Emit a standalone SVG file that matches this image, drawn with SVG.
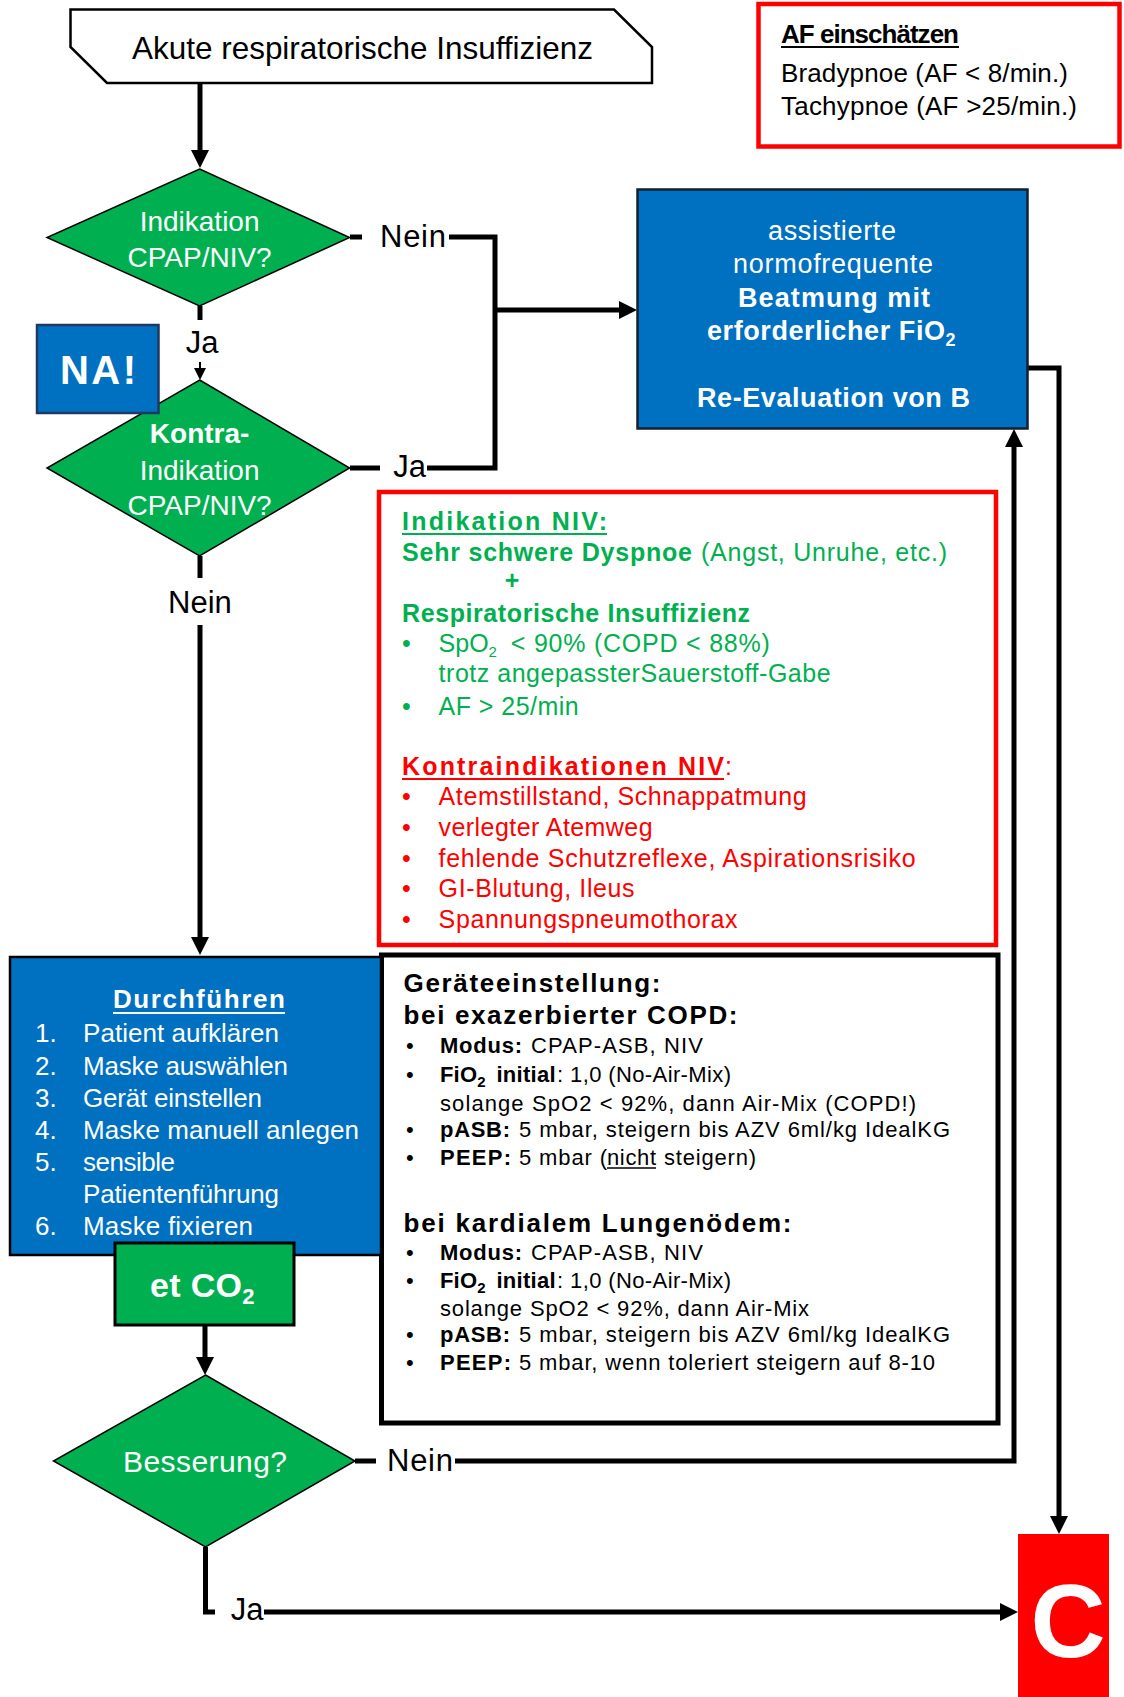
<svg xmlns="http://www.w3.org/2000/svg" width="1124" height="1697" viewBox="0 0 1124 1697">
<defs>
<style>
text { font-family: "Liberation Sans", Arial, sans-serif; }
.conn { stroke:#000; stroke-width:5; fill:none; stroke-linejoin:miter; }
.thin { stroke:#000; stroke-width:2; fill:none; }
.lbl { font-size:31px; fill:#000; }
.dia { fill:#00B050; stroke:#000; stroke-width:1.5; }
.wt { fill:#fff; }
.b { font-weight:bold; }
.grn { fill:#00B050; }
.red { fill:#FF0000; }
.blk { fill:#000; }
</style>
<marker id="ah" viewBox="0 0 18 18" refX="8" refY="9" markerWidth="18" markerHeight="18" markerUnits="userSpaceOnUse" orient="auto"><path d="M0,0 L18,9 L0,18 Z" fill="#000"/></marker>
<marker id="ahs" viewBox="0 0 12 12" refX="2" refY="6" markerWidth="12" markerHeight="12" markerUnits="userSpaceOnUse" orient="auto"><path d="M0,0 L12,6 L0,12 Z" fill="#000"/></marker>
</defs>
<rect width="1124" height="1697" fill="#fff"/>

<g id="connectors">
  <line class="conn" x1="200" y1="83" x2="200" y2="158" marker-end="url(#ah)"/>
  <line class="conn" x1="200" y1="306" x2="200" y2="320"/>
  <line class="thin" x1="200" y1="362" x2="200" y2="370" marker-end="url(#ahs)"/>
  <line class="conn" x1="350" y1="237" x2="362" y2="237"/>
  <path class="conn" d="M449,237 H495 V468 H427"/>
  <line class="conn" x1="350" y1="468" x2="380" y2="468"/>
  <line class="conn" x1="495" y1="310" x2="627" y2="310" marker-end="url(#ah)"/>
  <line class="conn" x1="200" y1="556" x2="200" y2="578"/>
  <line class="conn" x1="200" y1="625" x2="200" y2="945" marker-end="url(#ah)"/>
  <line class="conn" x1="205" y1="1325" x2="205" y2="1365" marker-end="url(#ah)"/>
  <line class="conn" x1="355" y1="1461" x2="376" y2="1461"/>
  <path class="conn" d="M455,1461 H1014 V439" marker-end="url(#ah)"/>
  <path class="conn" d="M205.5,1547 V1612 H215"/>
  <line class="conn" x1="264" y1="1612" x2="1008" y2="1612" marker-end="url(#ah)"/>
  <path class="conn" d="M1028,368 H1059 V1524" marker-end="url(#ah)"/>
  <text class="lbl" x="380" y="247" textLength="66">Nein</text>
  <text class="lbl" x="202" y="353" font-size="28" text-anchor="middle">Ja</text>
  <text class="lbl" x="409.5" y="477" font-size="29" text-anchor="middle">Ja</text>
  <text class="lbl" x="200" y="613" text-anchor="middle">Nein</text>
  <text class="lbl" x="387" y="1471" textLength="66">Nein</text>
  <text class="lbl" x="247" y="1620" font-size="29" text-anchor="middle">Ja</text>
</g>

<g id="start">
  <path d="M70.5,9.5 H614 L652,47 V83 H107 L70.5,47 Z" fill="#fff" stroke="#000" stroke-width="2.5"/>
  <text x="132" y="59" font-size="32" textLength="461" lengthAdjust="spacingAndGlyphs">Akute respiratorische Insuffizienz</text>
</g>

<g id="af-box">
  <rect x="758.5" y="4" width="361" height="142.5" fill="#fff" stroke="#FF0000" stroke-width="4.5"/>
  <text x="781" y="42.5" font-size="26" class="b" textLength="178">AF einschätzen</text>
  <line x1="781" y1="47" x2="959" y2="47" stroke="#000" stroke-width="2"/>
  <text x="781" y="81.5" font-size="26" textLength="287">Bradypnoe  (AF &lt; 8/min.)</text>
  <text x="781" y="115" font-size="26" textLength="296">Tachypnoe  (AF &gt;25/min.)</text>
</g>

<g id="diamond-indikation">
  <polygon class="dia" points="199.6,169 349.6,237.5 199.6,306 47,237.5"/>
  <text class="wt" x="199.6" y="231" font-size="28" text-anchor="middle">Indikation</text>
  <text class="wt" x="199.6" y="267" font-size="28" text-anchor="middle">CPAP/NIV?</text>
</g>

<g id="diamond-kontra">
  <polygon class="dia" points="199.6,380 349.6,468 199.6,556 47,468"/>
  <text class="wt b" x="199.6" y="443" font-size="28" text-anchor="middle">Kontra-</text>
  <text class="wt" x="199.6" y="480" font-size="28" text-anchor="middle">Indikation</text>
  <text class="wt" x="199.6" y="515" font-size="28" text-anchor="middle">CPAP/NIV?</text>
</g>

<g id="na">
  <rect x="37" y="325" width="121.5" height="88" fill="#0070C0" stroke="#1F3864" stroke-width="2.5"/>
  <text class="wt b" x="98" y="384" font-size="40" text-anchor="middle" textLength="76">NA!</text>
</g>

<g id="beatmung">
  <rect x="637.5" y="189.5" width="390" height="239" fill="#0070C0" stroke="#14202E" stroke-width="2.5"/>
  <text class="wt" x="768" y="240" font-size="27" textLength="128">assistierte</text>
  <text class="wt" x="733" y="273" font-size="27" textLength="200">normofrequente</text>
  <text class="wt b" x="738" y="307" font-size="27" textLength="192">Beatmung mit</text>
  <text class="wt b" x="707" y="340" font-size="27"><tspan textLength="238">erforderlicher FiO</tspan><tspan font-size="18" dy="6">2</tspan></text>
  <text class="wt b" x="697" y="407" font-size="27" textLength="273">Re-Evaluation von B</text>
</g>

<g id="indikation-niv">
  <rect x="379" y="492" width="617" height="453" fill="#fff" stroke="#FF0000" stroke-width="4.5"/>
  <text class="grn b" x="402" y="530" font-size="25" textLength="205">Indikation NIV:</text>
  <line x1="402" y1="534" x2="607" y2="534" stroke="#00B050" stroke-width="2"/>
  <text class="grn" y="561" font-size="25"><tspan class="b" x="402" textLength="290">Sehr schwere Dyspnoe</tspan><tspan x="701" textLength="246">(Angst, Unruhe, etc.)</tspan></text>
  <text class="grn b" x="512" y="589" font-size="25" text-anchor="middle">+</text>
  <text class="grn b" x="402" y="622" font-size="25" textLength="348">Respiratorische Insuffizienz</text>
  <text class="grn" x="402" y="652" font-size="25">•</text>
  <text class="grn" y="652" font-size="25"><tspan x="438.6" textLength="50">SpO</tspan><tspan font-size="15" dy="5">2</tspan><tspan x="510.8" dy="-5" textLength="259">&lt; 90% (COPD &lt; 88%)</tspan></text>
  <text class="grn" x="438.6" y="682" font-size="25" textLength="392">trotz angepassterSauerstoff-Gabe</text>
  <text class="grn" x="402" y="715" font-size="25">•</text>
  <text class="grn" x="438.6" y="715" font-size="25" textLength="140">AF &gt; 25/min</text>
  <text class="red" y="775" font-size="25"><tspan class="b" x="402" textLength="322">Kontraindikationen NIV</tspan><tspan x="725">:</tspan></text>
  <line x1="402" y1="779" x2="724" y2="779" stroke="#FF0000" stroke-width="2"/>
  <g class="red" font-size="25">
    <text x="402" y="805">•</text>
    <text x="438.6" y="805" textLength="368">Atemstillstand,  Schnappatmung</text>
    <text x="402" y="836">•</text>
    <text x="438.6" y="836" textLength="214">verlegter  Atemweg</text>
    <text x="402" y="867">•</text>
    <text x="438.6" y="867" textLength="477">fehlende  Schutzreflexe,  Aspirationsrisiko</text>
    <text x="402" y="897">•</text>
    <text x="438.6" y="897" textLength="196">GI-Blutung,  Ileus</text>
    <text x="402" y="928">•</text>
    <text x="438.6" y="928" textLength="299">Spannungspneumothorax</text>
  </g>
</g>

<g id="geraeteeinstellung">
  <rect x="381.5" y="955" width="616.5" height="468" fill="#fff" stroke="#000" stroke-width="5"/>
  <g class="blk" font-size="22">
    <text class="b" x="403.5" y="992" font-size="26" textLength="257">Geräteeinstellung:</text>
    <text class="b" x="403.5" y="1024" font-size="26" textLength="334">bei exazerbierter COPD:</text>
    <text x="406" y="1053">•</text>
    <text y="1053"><tspan class="b" x="440" textLength="82">Modus:</tspan><tspan x="531" textLength="172">CPAP-ASB,  NIV</tspan></text>
    <text x="406" y="1082">•</text>
    <text y="1082"><tspan class="b" x="440" textLength="37">FiO</tspan><tspan class="b" font-size="15" dy="5">2</tspan><tspan class="b" x="496.5" dy="-5" textLength="59">initial</tspan><tspan x="557" textLength="174">: 1,0 (No-Air-Mix)</tspan></text>
    <text x="440" y="1111" textLength="476">solange SpO2 &lt; 92%, dann Air-Mix  (COPD!)</text>
    <text x="406" y="1137">•</text>
    <text y="1137"><tspan class="b" x="440" textLength="70">pASB:</tspan><tspan x="519" textLength="431">5 mbar, steigern bis AZV 6ml/kg IdealKG</tspan></text>
    <text x="406" y="1165">•</text>
    <text y="1165"><tspan class="b" x="440" textLength="71">PEEP:</tspan><tspan x="519" textLength="88">5 mbar (</tspan><tspan x="607" textLength="49">nicht</tspan><tspan x="664" textLength="92">steigern)</tspan></text>
    <line x1="607" y1="1168" x2="656" y2="1168" stroke="#000" stroke-width="1.5"/>
    <text class="b" x="403.5" y="1232" font-size="26" textLength="388">bei kardialem Lungenödem:</text>
    <text x="406" y="1260">•</text>
    <text y="1260"><tspan class="b" x="440" textLength="82">Modus:</tspan><tspan x="531" textLength="172">CPAP-ASB,  NIV</tspan></text>
    <text x="406" y="1288">•</text>
    <text y="1288"><tspan class="b" x="440" textLength="37">FiO</tspan><tspan class="b" font-size="15" dy="5">2</tspan><tspan class="b" x="496.5" dy="-5" textLength="59">initial</tspan><tspan x="557" textLength="174">: 1,0 (No-Air-Mix)</tspan></text>
    <text x="440" y="1316" textLength="369">solange SpO2 &lt; 92%, dann Air-Mix</text>
    <text x="406" y="1342">•</text>
    <text y="1342"><tspan class="b" x="440" textLength="70">pASB:</tspan><tspan x="519" textLength="431">5 mbar, steigern bis AZV 6ml/kg IdealKG</tspan></text>
    <text x="406" y="1370">•</text>
    <text y="1370"><tspan class="b" x="440" textLength="71">PEEP:</tspan><tspan x="519" textLength="416">5 mbar, wenn toleriert steigern auf 8-10</tspan></text>
  </g>
</g>

<g id="durchfuehren">
  <rect x="10" y="957" width="371" height="298" fill="#0070C0" stroke="#000" stroke-width="2.5"/>
  <g class="wt" font-size="26">
    <text class="b" x="113" y="1008" textLength="172">Durchführen</text>
    <line x1="113" y1="1013" x2="285" y2="1013" stroke="#fff" stroke-width="2"/>
    <text x="35" y="1042">1.</text><text x="83" y="1042" textLength="196">Patient  aufklären</text>
    <text x="35" y="1075">2.</text><text x="83" y="1075" textLength="205">Maske  auswählen</text>
    <text x="35" y="1107">3.</text><text x="83" y="1107" textLength="179">Gerät einstellen</text>
    <text x="35" y="1139">4.</text><text x="83" y="1139" textLength="276">Maske  manuell  anlegen</text>
    <text x="35" y="1171">5.</text><text x="83" y="1171" textLength="92">sensible</text>
    <text x="83" y="1203" textLength="196">Patientenführung</text>
    <text x="35" y="1235">6.</text><text x="83" y="1235" textLength="170">Maske  fixieren</text>
  </g>
</g>

<g id="etco2">
  <rect x="115" y="1243" width="179" height="82" fill="#00B050" stroke="#000" stroke-width="3"/>
  <text class="wt b" x="150" y="1297" font-size="34"><tspan textLength="92">et CO</tspan><tspan font-size="22" dy="7">2</tspan></text>
</g>

<g id="besserung">
  <polygon class="dia" points="205.5,1375 355,1461 205.5,1547 53.5,1461"/>
  <text class="wt" x="205" y="1472" font-size="30" text-anchor="middle" textLength="164">Besserung?</text>
</g>

<g id="c-box">
  <rect x="1018" y="1534" width="91" height="163" fill="#FF0000"/>
  <text class="wt b" x="1068" y="1657" font-size="104" text-anchor="middle">C</text>
</g>
</svg>
